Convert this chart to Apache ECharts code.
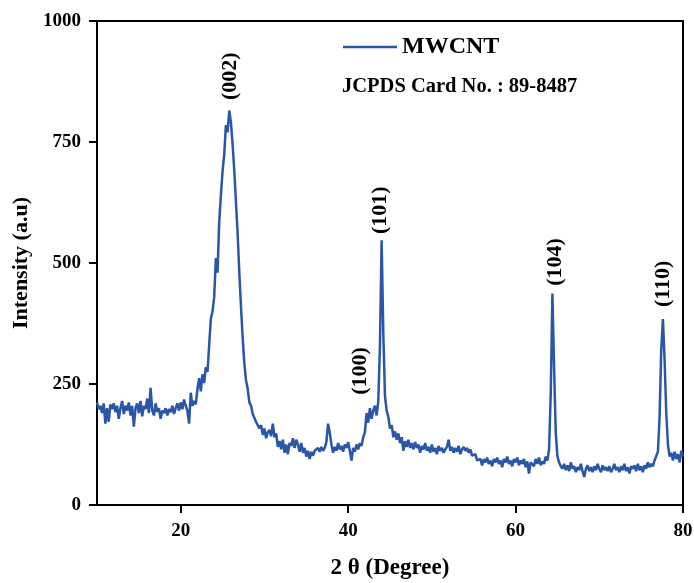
<!DOCTYPE html>
<html>
<head>
<meta charset="utf-8">
<script src="https://cdn.jsdelivr.net/npm/echarts@6/dist/echarts.min.js"></script>
<style>
  html, body { margin: 0; padding: 0; background: #fff; }
  #chart { width: 694px; height: 583px; }
</style>
</head>
<body>
<div id="chart"></div>
<script>
// XRD scan: 10 - 80 deg, 0.2 deg steps (one row = 2 deg)
var scanStart = 10, scanStep = 0.2;
var intensity = [
  212, 198, 205, 190, 210, 168, 200, 172, 208, 198,   // 10
  210, 192, 205, 178, 200, 215, 188, 205, 195, 212,   // 12
  185, 205, 162, 200, 210, 190, 215, 183, 205, 198,   // 14
  220, 190, 242, 195, 185, 210, 192, 200, 178, 195,   // 16
  190, 200, 185, 198, 192, 205, 188, 200, 210, 195,   // 18
  212, 198, 218, 205, 195, 168, 232, 205, 215, 208,   // 20
  240, 262, 235, 270, 252, 285, 275, 330, 385, 400,   // 22
  430, 510, 480, 585, 640, 690, 725, 785, 770, 815,   // 24
  790, 745, 690, 625, 560, 480, 410, 345, 292, 258,   // 26
  240, 212, 205, 188, 192, 172, 175, 158, 165, 145,   // 28
  158, 138, 150, 155, 142, 168, 140, 148, 120, 132,   // 30
  115, 135, 108, 125, 105, 128, 122, 138, 118, 135,   // 32
  125, 110, 128, 108, 118, 100, 112, 95, 110, 102,    // 34
  112, 108, 118, 110, 120, 112, 118, 130, 168, 150,   // 36
  125, 108, 120, 112, 128, 115, 122, 110, 125, 118,   // 38
  130, 112, 92, 118, 110, 125, 115, 128, 122, 140,    // 40
  150, 190, 170, 200, 178, 195, 205, 185, 215, 330,   // 42
  547, 355, 225, 195, 182, 158, 165, 140, 152, 135,   // 44
  148, 128, 140, 112, 132, 120, 135, 118, 128, 115,   // 46
  130, 118, 125, 108, 122, 115, 128, 112, 120, 108,   // 48
  125, 110, 118, 105, 122, 112, 118, 108, 115, 120,   // 50
  135, 112, 120, 108, 118, 110, 122, 105, 115, 120,   // 52
  112, 118, 108, 115, 102, 98, 105, 92, 88, 95,       // 54
  82, 95, 88, 98, 85, 92, 80, 95, 88, 98,             // 56
  85, 92, 78, 95, 88, 100, 85, 92, 80, 95,            // 58
  88, 98, 82, 92, 85, 95, 78, 90, 65, 88,             // 60
  92, 80, 95, 85, 98, 82, 90, 85, 100, 92,            // 62
  115, 230, 437, 285, 150, 100, 88, 80, 75, 85,       // 64
  72, 82, 70, 88, 75, 80, 68, 78, 72, 85,             // 66
  70, 58, 75, 82, 70, 78, 68, 80, 72, 85,             // 68
  75, 68, 82, 72, 78, 70, 80, 68, 75, 85,             // 70
  72, 78, 68, 80, 72, 85, 70, 78, 65, 80,             // 72
  75, 82, 70, 85, 72, 80, 68, 82, 75, 88,             // 74
  78, 85, 80, 92, 95, 110, 180, 320, 384, 300,        // 76
  190, 125, 100, 108, 92, 110, 95, 105, 88, 112,      // 78
  100                                                 // 80
];

// peak labels (hkl) and where they sit
var peakNames = ['(002)', '(100)', '(101)', '(104)', '(110)'];
var peakTheta = [25.9, 41.4, 43.8, 64.8, 77.7];
var peakLabelY = [886, 277, 609, 502, 457];

var xTicks = [20, 40, 60, 80];
var yTicks = [0, 250, 500, 750, 1000];

var serif = "'Liberation Serif', 'Times New Roman', serif";

var scan = intensity.map(function (v, i) {
  return [+(scanStart + i * scanStep).toFixed(1), v];
});
var peaks = peakNames.map(function (n, i) {
  return { name: n, value: [peakTheta[i], peakLabelY[i]] };
});

var myChart = echarts.init(document.getElementById('chart'));
var option = {
  animation: false,
  backgroundColor: '#fff',
  title: {
    text: 'JCPDS Card No. : 89-8487',
    left: 342,
    top: 76,
    padding: 0,
    textStyle: { fontFamily: serif, fontWeight: 'bold', fontSize: 20.5, color: '#000' }
  },
  legend: {
    data: ['MWCNT'],
    left: 343,
    top: 33,
    padding: 0,
    icon: 'rect',
    itemWidth: 54,
    itemHeight: 2.5,
    textStyle: { fontFamily: serif, fontWeight: 'bold', fontSize: 24, color: '#000', lineHeight: 28 }
  },
  grid: {
    left: 97, right: 11, top: 21, bottom: 78,
    outerBoundsMode: 'none',
    show: true, borderColor: '#000', borderWidth: 2
  },
  xAxis: {
    type: 'value',
    min: 10, max: 80,
    name: '2 θ (Degree)',
    nameLocation: 'middle',
    nameGap: 52,
    nameTextStyle: { fontFamily: serif, fontWeight: 'bold', fontSize: 23, color: '#000' },
    axisLine: { lineStyle: { color: '#000', width: 2 } },
    axisTick: { inside: false, length: 8, lineStyle: { width: 2 }, customValues: xTicks },
    axisLabel: { margin: 17, fontFamily: serif, fontWeight: 'bold', fontSize: 19, color: '#000', customValues: xTicks },
    splitLine: { show: false }
  },
  yAxis: {
    type: 'value',
    min: 0, max: 1000,
    name: 'Intensity (a.u)',
    nameLocation: 'middle',
    nameGap: 62,
    nameTextStyle: { fontFamily: serif, fontWeight: 'bold', fontSize: 22, color: '#000' },
    axisLine: { show: true, lineStyle: { color: '#000', width: 2 } },
    axisTick: { show: true, inside: false, length: 8, lineStyle: { width: 2 }, customValues: yTicks },
    axisLabel: {
      margin: 16, fontFamily: serif, fontWeight: 'bold', fontSize: 19, color: '#000',
      customValues: yTicks,
      formatter: function (v) { return String(v); }
    },
    splitLine: { show: false }
  },
  series: [
    {
      name: 'MWCNT',
      type: 'line',
      data: scan,
      showSymbol: false,
      color: '#2a56a8',
      lineStyle: { width: 2.5, color: '#2a56a8' }
    },
    {
      name: 'peaks',
      type: 'scatter',
      data: peaks,
      symbolSize: 0,
      silent: true,
      itemStyle: { opacity: 1 },
      label: {
        show: true,
        position: 'inside',
        rotate: 90,
        formatter: '{b}',
        fontFamily: serif,
        fontWeight: 'bold',
        fontSize: 22,
        color: '#000',
        opacity: 1,
        textBorderWidth: 0
      }
    }
  ]
};
myChart.setOption(option);
</script>
</body>
</html>
